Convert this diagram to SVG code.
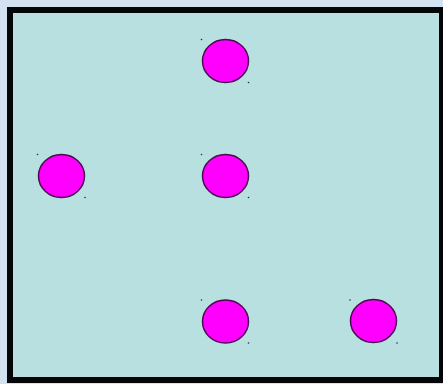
<svg xmlns="http://www.w3.org/2000/svg" width="443" height="384" viewBox="0 0 443 384">
<defs>
<style>
.bg{fill:#d3e2f0}
.frame{fill:#b9e0e1;stroke:#050608;stroke-width:6}
.dot{fill:#c9d8e9;stroke:#2f6aa8;stroke-width:1}
.node ellipse{fill:#ff00ff;stroke:#4a0a4e;stroke-width:1.5}
.node circle{fill:#203040}
</style>
</defs>
<rect class="bg" x="0" y="0" width="443" height="384"/>
<rect class="frame" x="10" y="10" width="432" height="370"/>
<g id="node-top" class="node">
<ellipse cx="225.5" cy="61" rx="23" ry="21.5"/>
<circle cx="201.5" cy="39.5" r="0.8"/>
<circle cx="248.5" cy="82.5" r="0.8"/>
</g>
<g id="node-left" class="node">
<ellipse cx="61.5" cy="176" rx="23" ry="21.5"/>
<circle cx="37.5" cy="154.5" r="0.8"/>
<circle cx="85" cy="197.5" r="0.8"/>
</g>
<g id="node-middle" class="node">
<ellipse cx="225.5" cy="176" rx="23" ry="21.5"/>
<circle cx="201.5" cy="154.5" r="0.8"/>
<circle cx="248.5" cy="197.5" r="0.8"/>
</g>
<g id="node-bottom" class="node">
<ellipse cx="225.5" cy="321.5" rx="23" ry="21.5"/>
<circle cx="201.5" cy="300" r="0.8"/>
<circle cx="248.5" cy="343" r="0.8"/>
</g>
<g id="node-bottom-right" class="node">
<ellipse cx="373.5" cy="321" rx="23" ry="21.5"/>
<circle cx="350" cy="300" r="0.8"/>
<circle cx="397" cy="343" r="0.8"/>
</g>
<g id="connectors"/>
</svg>
